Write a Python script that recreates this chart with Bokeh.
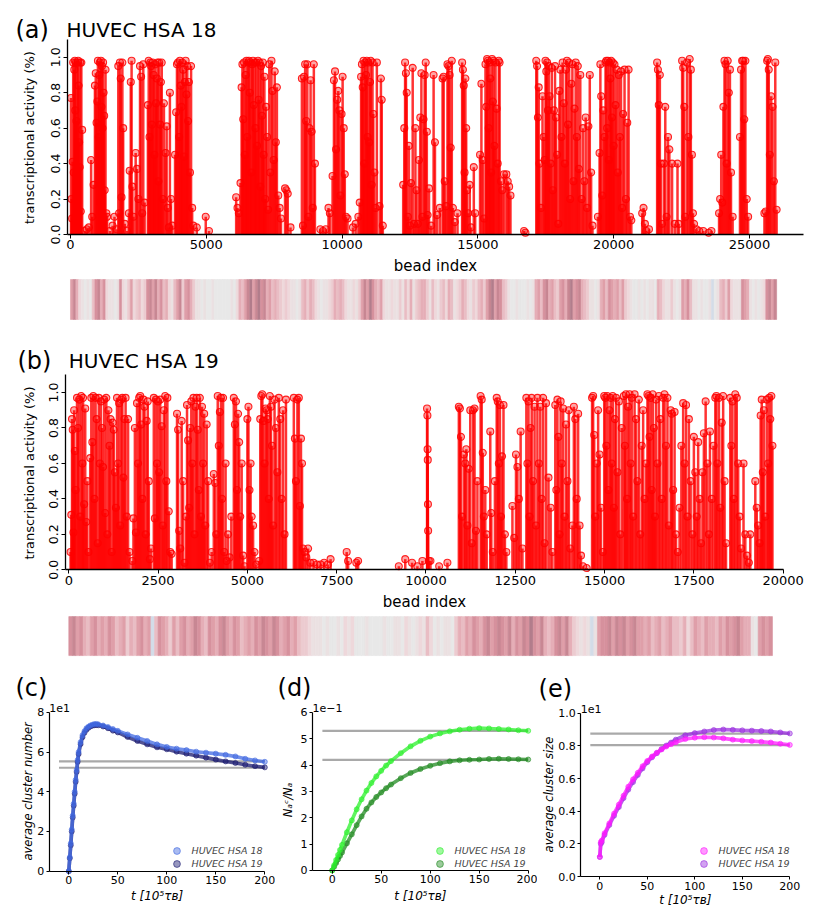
import math
import numpy as np
from bokeh.plotting import figure
from bokeh.models import (ColumnDataSource, Label, FixedTicker, Legend, LegendItem,
                          PrintfTickFormatter)
from bokeh.layouts import column, row
from bokeh.embed import file_html
from bokeh.resources import INLINE

FONT = "DejaVu Sans"

# ---------------------------------------------------------------- data
# (bead index, transcriptional activity), HUVEC HSA 18
stems_a = [
    (20,0.77),(40,0.2),(60,0.09),(80,0.41),(100,0.97),(120,0.35),(140,0.93),(160,0.98),(180,0.7),(200,0.97),
    (220,0.64),(240,0.33),(260,0.97),(280,0.98),(300,0.84),(320,0.52),(340,0.38),(360,0.97),(380,0.13),(400,0.97),
    (430,0.59),(520,0.02),(600,0.03),(680,0.04),(760,0.42),(800,0.1),(850,0.28),
    (900,0.84),(930,0.91),(960,0.63),(990,0.75),(1010,0.98),(1040,0.55),(1060,0.9),(1080,0.97),(1100,0.18),
    (1120,0.98),(1140,0.72),(1160,0.95),(1180,0.6),(1200,0.97),(1220,0.8),(1240,0.67),(1260,0.25),(1290,0.93),
    (1320,0.12),(1350,0.1),(1450,0.02),(1550,0.05),(1620,0.1),(1700,0.03),
    (1760,0.95),(1790,0.12),(1820,0.97),(1850,0.88),(1880,0.21),(1910,0.97),(1940,0.6),
    (2000,0.06),(2080,0.02),(2150,0.12),(2180,0.36),(2220,0.86),(2250,0.98),(2280,0.27),(2320,0.1),
    (2400,0.46),(2450,0.37),(2500,0.2),(2560,0.95),(2600,0.89),(2640,0.12),(2680,0.96),(2730,0.18),
    (2850,0.73),(2880,0.98),(2910,0.55),(2940,0.97),(2970,0.95),(3000,0.62),(3030,0.97),(3060,0.9),(3090,0.45),
    (3120,0.96),(3150,0.74),(3180,0.88),(3210,0.97),(3240,0.3),(3270,0.97),(3300,0.62),(3330,0.86),(3360,0.97),
    (3400,0.2),(3440,0.74),(3500,0.46),(3540,0.61),(3580,0.15),(3620,0.04),(3660,0.8),(3700,0.2),(3750,0.05),
    (3850,0.45),(3890,0.69),(3920,0.96),(3960,0.97),(4000,0.55),(4030,0.98),(4060,0.84),(4090,0.72),(4120,0.97),
    (4150,0.93),(4180,0.44),(4210,0.86),(4240,0.98),(4270,0.79),(4300,0.95),(4330,0.64),(4360,0.86),(4400,0.35),
    (4440,0.95),(4480,0.15),(4520,0.05),(4650,0.04),(4980,0.1),(5100,0.02),
    (6100,0.21),(6150,0.15),(6200,0.12),(6260,0.29),(6300,0.83),(6330,0.96),(6360,0.65),(6390,0.97),(6420,0.45),
    (6450,0.9),(6480,0.98),(6510,0.55),(6540,0.97),(6570,0.98),(6600,0.8),(6630,0.97),(6660,0.35),(6690,0.96),
    (6720,0.98),(6750,0.73),(6780,0.97),(6810,0.6),(6840,0.97),(6870,0.5),(6900,0.98),(6930,0.76),(6960,0.97),
    (6990,0.27),(7020,0.95),(7050,0.67),(7080,0.97),(7110,0.45),(7140,0.89),(7170,0.2),(7200,0.72),(7240,0.55),
    (7280,0.14),(7320,0.96),(7360,0.35),(7400,0.98),(7440,0.81),(7480,0.42),(7520,0.92),(7560,0.52),(7600,0.83),
    (7650,0.22),(7700,0.15),(7750,0.09),(7900,0.26),(7950,0.25),(8000,0.23),(8100,0.04),
    (8520,0.88),(8560,0.05),(8600,0.89),(8640,0.96),(8680,0.64),(8720,0.96),(8760,0.1),(8800,0.6),(8840,0.87),
    (8880,0.58),(8920,0.15),(8960,0.96),(9000,0.4),(9200,0.03),(9300,0.02),(9400,0.03),(9500,0.15),(9550,0.12),
    (9650,0.33),(9700,0.87),(9740,0.92),(9780,0.48),(9820,0.76),(9860,0.81),(9900,0.7),(9940,0.22),(9980,0.68),
    (10020,0.89),(10060,0.6),(10100,0.34),(10140,0.1),(10200,0.09),(10400,0.04),(10500,0.06),(10600,0.1),(10650,0.18),
    (10700,0.89),(10730,0.96),(10760,0.83),(10790,0.98),(10820,0.4),(10850,0.97),(10880,0.9),(10910,0.98),(10940,0.55),
    (10970,0.97),(11000,0.52),(11030,0.86),(11060,0.98),(11090,0.28),(11120,0.97),(11150,0.68),(11190,0.35),(11230,0.15),
    (11280,0.97),(11380,0.16),(11430,0.88),(11460,0.76),(11500,0.05),
    (12250,0.28),(12290,0.6),(12320,0.97),(12350,0.91),(12380,0.8),(12420,0.1),(12460,0.5),(12500,0.05),(12540,0.29),
    (12600,0.94),(12650,0.06),(12700,0.6),(12740,0.25),(12790,0.06),(12830,0.42),(12880,0.66),(12920,0.91),(12960,0.1),
    (13000,0.65),(13040,0.9),(13080,0.97),(13120,0.58),(13150,0.11),(13200,0.26),(13280,0.05),(13370,0.9),(13420,0.52),
    (13500,0.11),(13600,0.15),(13700,0.88),(13740,0.89),(13780,0.3),(13830,0.16),(13880,0.96),(13920,0.95),(13960,0.9),
    (14000,0.49),(14040,0.98),(14080,0.15),(14150,0.07),(14250,0.12),
    (14420,0.97),(14450,0.93),(14480,0.84),(14510,0.35),(14540,0.88),(14570,0.6),(14600,0.25),(14650,0.12),(14700,0.28),
    (14750,0.04),(14850,0.38),(14900,0.12),
    (15080,0.45),(15130,0.85),(15180,0.42),(15230,0.09),(15280,0.96),(15310,0.72),(15340,0.99),(15370,0.98),(15400,0.6),
    (15430,0.97),(15460,0.88),(15490,0.35),(15520,0.99),(15550,0.75),(15580,0.98),(15610,0.5),(15650,0.97),(15690,0.71),
    (15730,0.4),(15770,0.98),(15800,0.97),(15850,0.3),(15900,0.25),(15960,0.34),(16050,0.34),(16100,0.3),(16150,0.27),
    (16200,0.22),(16700,0.02),(16750,0.01),
    (17150,0.98),(17180,0.95),(17210,0.66),(17240,0.83),(17270,0.4),(17320,0.15),(17380,0.78),(17420,0.55),(17460,0.42),
    (17490,0.98),(17520,0.92),(17550,0.97),(17580,0.7),(17610,0.95),(17640,0.78),(17680,0.4),(17720,0.94),(17760,0.25),
    (17800,0.7),(17840,0.95),(17880,0.66),(17920,0.45),(17960,0.06),(18000,0.81),(18040,0.93),(18080,0.55),(18120,0.97),
    (18160,0.74),(18200,0.4),(18240,0.93),(18280,0.98),(18320,0.62),(18360,0.97),(18400,0.2),(18440,0.85),(18480,0.96),
    (18520,0.3),(18560,0.71),(18600,0.97),(18640,0.55),(18680,0.95),(18720,0.37),(18770,0.9),(18820,0.2),(18870,0.6),
    (18920,0.3),(18970,0.66),(19020,0.15),(19070,0.61),(19120,0.9),(19170,0.35),(19220,0.05),
    (19420,0.1),(19480,0.46),(19510,0.96),(19540,0.78),(19580,0.22),(19620,0.7),(19660,0.55),(19700,0.97),(19730,0.98),
    (19760,0.6),(19790,0.98),(19820,0.42),(19850,0.97),(19880,0.88),(19910,0.98),(19940,0.66),(19970,0.97),(20000,0.5),
    (20030,0.96),(20070,0.73),(20110,0.93),(20150,0.35),(20190,0.9),(20230,0.55),(20270,0.92),(20310,0.15),(20350,0.68),
    (20400,0.93),(20450,0.2),(20500,0.63),(20550,0.93),(20600,0.1),(20650,0.08),
    (21050,0.12),(21100,0.15),(21150,0.06),(21200,0.02),(21300,0.03),
    (21600,0.97),(21630,0.93),(21660,0.73),(21700,0.9),(21740,0.4),(21780,0.06),(21850,0.4),(21900,0.72),(21950,0.1),
    (22000,0.55),(22050,0.48),(22150,0.4),(22250,0.06),(22350,0.4),(22400,0.06),
    (22520,0.98),(22560,0.94),(22600,0.72),(22640,0.1),(22700,0.97),(22750,0.55),(22800,0.99),(22840,0.93),(22880,0.45),
    (22920,0.12),(22960,0.06),(23050,0.03),(23150,0.02),(23300,0.02),(23500,0.01),(23600,0.02),
    (23880,0.12),(23920,0.2),(23960,0.45),(24000,0.18),(24040,0.72),(24080,0.98),(24120,0.96),(24160,0.4),(24200,0.98),
    (24240,0.8),(24280,0.93),(24320,0.35),(24380,0.1),
    (24650,0.55),(24690,0.93),(24730,0.98),(24770,0.98),(24810,0.65),(24850,0.98),(24900,0.2),(24950,0.1),
    (25550,0.12),(25600,0.13),(25650,0.98),(25680,0.99),(25710,0.93),(25750,0.45),(25800,0.78),(25850,0.72),(25900,0.3),
    (25950,0.97),(26000,0.14),
]

# (bead index, transcriptional activity), HUVEC HSA 19
stems_b = [
    (50,0.1),(70,0.31),(90,0.85),(110,0.79),(130,0.21),(150,0.9),(170,0.67),(190,0.45),(230,0.97),(260,0.8),
    (290,0.96),(320,0.3),(350,0.98),(380,0.6),(400,0.97),(430,0.37),(460,0.91),(490,0.27),(520,0.5),(550,0.1),
    (600,0.63),(630,0.97),(660,0.72),(690,0.98),(720,0.4),(750,0.97),(780,0.85),(810,0.15),(840,0.97),(870,0.6),
    (900,0.95),(930,0.8),(960,0.58),(990,0.96),(1020,0.32),(1050,0.97),(1080,0.2),(1110,0.9),(1140,0.7),
    (1170,0.85),(1200,0.1),(1230,0.83),(1260,0.79),(1290,0.55),(1320,0.35),(1350,0.97),(1380,0.6),(1410,0.94),
    (1440,0.25),(1470,0.96),(1500,0.97),(1530,0.52),(1560,0.85),(1590,0.97),(1620,0.3),(1660,0.85),(1700,0.1),
    (1780,0.05),(1810,0.29),(1850,0.8),(1880,0.21),(1910,0.94),(1940,0.6),(1970,0.97),(2000,0.98),(2030,0.82),
    (2060,0.4),(2090,0.96),(2120,0.92),(2150,0.2),(2180,0.84),(2210,0.95),(2240,0.5),(2270,0.06),(2300,0.12),
    (2380,0.97),(2410,0.29),(2440,0.96),(2470,0.6),(2500,0.95),(2530,0.55),(2560,0.96),(2600,0.81),(2630,0.25),
    (2660,0.9),(2700,0.98),(2730,0.5),(2760,0.97),(2800,0.33),(2840,0.1),(2880,0.09),
    (3030,0.88),(3060,0.79),(3090,0.22),(3120,0.12),(3160,0.84),(3200,0.5),(3240,0.04),(3280,0.3),
    (3310,0.93),(3340,0.73),(3370,0.35),(3400,0.8),(3430,0.95),(3460,0.6),(3490,0.97),(3520,0.2),(3550,0.92),
    (3580,0.97),(3610,0.79),(3640,0.45),(3670,0.97),(3700,0.3),(3730,0.92),(3760,0.6),(3790,0.88),(3820,0.25),
    (3860,0.82),(3900,0.5),(3950,0.04),(4000,0.1),
    (4060,0.54),(4100,0.49),(4130,0.2),(4170,0.98),(4200,0.7),(4230,0.89),(4260,0.97),(4290,0.4),(4320,0.97),
    (4350,0.1),(4390,0.6),(4420,0.05),(4460,0.2),(4500,0.07),(4550,0.3),
    (4620,0.97),(4650,0.82),(4680,0.95),(4710,0.45),(4740,0.88),(4770,0.72),(4800,0.3),(4840,0.6),(4880,0.08),
    (4920,0.02),(5000,0.85),(5030,0.92),(5060,0.45),(5090,0.6),(5120,0.3),(5160,0.25),(5200,0.1),(5250,0.03),
    (5330,0.05),(5360,0.85),(5390,0.98),(5420,0.99),(5450,0.84),(5480,0.6),(5510,0.91),(5540,0.9),(5570,0.85),
    (5600,0.4),(5630,0.98),(5660,0.92),(5690,0.7),(5720,0.25),(5760,0.96),(5800,0.8),(5840,0.55),(5880,0.97),
    (5920,0.85),(5960,0.4),(6000,0.9),(6040,0.2),(6080,0.96),
    (6300,0.97),(6330,0.74),(6360,0.5),(6400,0.96),(6440,0.97),(6470,0.36),(6500,0.74),(6530,0.6),(6560,0.12),
    (6600,0.1),(6650,0.07),(6700,0.12),(6760,0.04),(6850,0.04),(6950,0.03),(7050,0.03),(7150,0.04),(7250,0.03),
    (7330,0.06),(7780,0.1),(7820,0.05),(8050,0.04),(8100,0.05),(9240,0.02),(9420,0.06),(9610,0.04),(9760,0.02),
    (9900,0.05),(10030,0.91),(10040,0.87),(10045,0.68),(10050,0.62),(10055,0.37),(10060,0.22),(10080,0.05),
    (10125,0.05),(10370,0.02),(10600,0.04),
    (10920,0.92),(10950,0.91),(10980,0.75),(11010,0.3),(11060,0.65),(11100,0.6),(11130,0.68),(11160,0.25),
    (11200,0.57),(11240,0.9),(11280,0.15),(11320,0.9),(11360,0.91),(11400,0.22),(11440,0.5),
    (11530,0.98),(11560,0.96),(11590,0.66),(11620,0.3),(11660,0.45),(11700,0.2),(11800,0.78),(11830,0.32),
    (11870,0.1),(11930,0.5),(11980,0.97),(12010,0.95),(12040,0.6),(12070,0.93),(12100,0.3),(12130,0.64),
    (12170,0.93),(12210,0.2),(12250,0.1),
    (12420,0.36),(12470,0.18),(12520,0.65),(12560,0.58),(12600,0.4),(12650,0.78),(12700,0.12),
    (12810,0.97),(12840,0.6),(12870,0.95),(12900,0.3),(12930,0.8),(12960,0.97),(13000,0.5),(13040,0.92),
    (13080,0.25),(13120,0.97),(13160,0.6),(13200,0.92),(13240,0.4),(13280,0.97),(13320,0.15),(13360,0.94),
    (13430,0.52),(13490,0.35),(13540,0.1),
    (13620,0.93),(13650,0.45),(13680,0.96),(13710,0.75),(13740,0.2),(13770,0.95),(13800,0.6),(13840,0.91),
    (13880,0.3),(13920,0.82),(13960,0.5),(14000,0.9),(14040,0.12),(14100,0.25),(14140,0.92),(14180,0.85),
    (14220,0.4),(14260,0.88),(14300,0.25),(14340,0.08),(14400,0.02),(14500,0.01),
    (14650,0.97),(14680,0.98),(14710,0.76),(14740,0.3),(14780,0.6),(14820,0.9),(14860,0.65),(14900,0.35),
    (14950,0.1),(14990,0.98),(15020,0.97),(15050,0.7),(15080,0.98),(15110,0.45),(15140,0.9),(15170,0.97),
    (15200,0.6),(15230,0.98),(15260,0.35),(15290,0.85),(15320,0.97),(15360,0.55),(15400,0.95),(15440,0.2),
    (15480,0.8),(15540,0.98),(15570,0.7),(15600,0.99),(15630,0.4),(15660,0.92),(15700,0.99),(15730,0.6),
    (15760,0.97),(15800,0.3),(15840,0.99),(15880,0.85),(15920,0.5),(15960,0.96),(16000,0.2),(16040,0.7),
    (16080,0.9),(16120,0.4),(16160,0.6),(16200,0.99),(16230,0.98),(16260,0.75),(16290,0.97),(16320,0.45),
    (16350,0.99),(16380,0.8),(16410,0.3),(16440,0.96),(16480,0.6),(16520,0.98),(16560,0.85),(16600,0.4),
    (16640,0.97),(16680,0.99),(16720,0.7),(16760,0.97),(16800,0.25),
    (16850,0.9),(16880,0.88),(16920,0.45),(16960,0.89),(17000,0.2),(17050,0.1),(17100,0.35),(17150,0.7),
    (17200,0.94),(17240,0.6),(17280,0.93),(17320,0.3),(17360,0.85),(17410,0.5),(17460,0.2),
    (17500,0.75),(17540,0.55),(17580,0.3),(17620,0.72),(17660,0.4),(17700,0.15),(17740,0.55),(17780,0.77),
    (17830,0.95),(17880,0.6),(17920,0.2),(17950,0.78),(18000,0.4),(18050,0.7),(18100,0.97),(18130,0.98),
    (18160,0.6),(18200,0.97),(18240,0.35),(18280,0.83),(18320,0.98),(18360,0.5),(18400,0.15),
    (18520,0.97),(18550,0.7),(18580,0.95),(18620,0.4),(18660,0.99),(18700,0.97),(18740,0.6),(18780,0.3),
    (18820,0.12),(18890,0.6),(18940,0.2),(18990,0.08),(19040,0.04),(19080,0.2),
    (19220,0.5),(19260,0.35),(19300,0.25),(19340,0.15),(19370,0.87),(19400,0.96),(19430,0.55),(19460,0.9),
    (19500,0.3),(19540,0.96),(19580,0.6),(19610,0.97),(19640,0.85),(19670,0.98),(19700,0.7),
]

# colour-strip levels, one per 100 beads (-1 = bluish, 0 = grey ... 9 = dark mauve)
STRIP_BIN = 100
strip_a = [
    6,8,5,2,1,0,1,0,4,7,  8,5,7,2,1,1,0,1,7,2,  1,3,6,2,3,4,2,3,7,8,  6,8,5,7,4,5,2,1,4,6,
    8,3,6,7,5,3,1,1,0,1,  0,0,1,0,0,0,0,0,0,1,  0,2,5,4,6,8,9,6,8,9,  7,8,5,6,4,5,4,3,2,3,
    2,1,1,0,1,4,5,3,5,4,  2,1,0,1,1,2,3,5,4,5,  4,2,1,1,2,1,3,6,8,6,  9,7,5,4,6,2,1,1,2,1,
    1,3,1,4,2,5,1,3,4,5,  5,3,1,4,2,1,3,4,2,5,  4,1,2,3,5,4,2,1,3,2,  4,5,3,6,8,9,6,8,7,4,
    3,1,0,0,1,0,0,0,1,0,  1,5,6,4,7,8,5,6,4,3,  6,7,5,8,9,6,7,8,5,4,  3,1,1,0,1,5,6,4,7,6,
    5,6,4,6,3,2,1,0,0,1,  0,1,0,1,1,0,5,4,2,1,  1,3,1,0,1,6,5,7,4,1,  1,0,1,0,0,1,-1,0,1,4,
    5,3,6,2,1,1,1,7,6,5,  1,0,1,0,1,2,7,8,6,8,
]
strip_b = [
    7,8,6,7,5,4,6,7,5,6,  5,7,6,4,5,6,3,5,4,6,  7,5,6,-1,4,7,6,5,3,6,  4,6,7,5,6,8,7,5,4,7,
    6,5,7,8,6,5,7,6,4,5,  6,5,7,6,8,7,6,8,7,5,  6,7,5,6,4,3,3,2,1,1,  1,0,1,0,0,1,0,2,1,2,
    0,0,0,1,0,0,0,0,1,0,  0,1,1,0,2,1,0,1,2,1,  4,2,0,1,0,1,1,0,3,5,  4,6,5,7,6,5,7,8,6,7,
    8,7,6,8,5,7,6,8,7,9,  7,6,8,5,4,5,7,8,6,8,  5,3,2,1,2,1,-1,1,6,7,  7,8,6,8,7,8,6,7,8,6,
    6,5,6,4,5,6,4,5,6,4,  4,3,5,2,4,6,5,4,6,5,  5,4,6,5,7,6,7,8,6,5,  5,1,0,6,7,6,7,
]

# panel (c): average cluster number
t_c = [0,1,2,3,4,5,6,7,8,9,10,12,14,16,18,20,22,24,26,28,30,35,40,45,50,
       60,70,80,90,100,110,120,130,140,150,160,170,180,190,200]
c_hsa18 = [0,7,14,21,28,34,40,46,51,56,60,65,68.5,70.5,72,72.8,73.4,73.8,74.1,74.2,74.0,73.4,72.6,71.6,70.7,
           68.9,67.2,65.6,63.9,62.6,61.7,61.0,60.2,59.7,59.2,58.6,57.8,56.6,55.8,55.1]
c_hsa19 = [0,6.5,13,20,27,33,39,45,50,55,59,64,67.5,69.7,71.2,72.2,72.9,73.3,73.5,73.6,73.5,72.9,72.0,70.8,69.9,
           67.6,65.6,63.9,62.4,61.4,60.2,59.2,58.2,57.2,56.2,55.3,54.5,53.6,52.9,52.3]
c_ref = [55.3, 52.1]

# panel (d): N_a^c / N_a
t_d = [0,2,4,6,8,10,15,20,25,30,35,40,45,50,55,60,70,80,90,100,110,120,130,140,150,160,170,180,190,200]
d_hsa18 = [0,0.020,0.040,0.059,0.078,0.097,0.145,0.190,0.232,0.270,0.303,0.332,0.357,0.378,0.398,0.415,
           0.445,0.471,0.492,0.508,0.520,0.528,0.534,0.538,0.540,0.539,0.537,0.535,0.532,0.530]
d_hsa19 = [0,0.014,0.028,0.042,0.055,0.068,0.103,0.137,0.172,0.205,0.234,0.258,0.279,0.296,0.312,0.326,
           0.350,0.370,0.385,0.397,0.407,0.414,0.418,0.420,0.421,0.423,0.424,0.423,0.422,0.421]
d_ref = [0.53, 0.42]

# panel (e): average cluster size
t_e = [0,1,2,5,10,15,20,25,30,35,40,45,50,55,60,65,70,75,80,90,100,110,120,130,140,150,160,170,180,190,200]
e_hsa18 = [1.2,2.1,2.2,2.65,3.25,3.85,4.4,4.95,5.5,5.95,6.35,6.75,7.08,7.35,7.58,7.78,7.96,8.1,8.22,8.42,
           8.5,8.53,8.51,8.46,8.38,8.33,8.29,8.25,8.2,8.13,8.06]
e_hsa19 = [1.2,2.0,2.1,2.55,3.15,3.72,4.25,4.8,5.32,5.78,6.22,6.62,7.0,7.3,7.55,7.8,8.02,8.2,8.38,8.65,
           8.78,8.88,8.97,9.0,8.98,8.95,8.93,8.91,8.88,8.82,8.76]
e_ref = [8.75, 8.05]

SERIES_LABELS = ["HUVEC HSA 18", "HUVEC HSA 19"]

# ---------------------------------------------------------------- style
STRIP_COLORS = {-1: "#d3dce8", 0: "#e8e8e8", 1: "#ebe1e2", 2: "#eed8db", 3: "#eccbd0", 4: "#e9bdc4",
                5: "#e5aeb7", 6: "#df9fa9", 7: "#d6919d", 8: "#c88793", 9: "#b27d8c"}
RED = "#ff0000"
VERT = math.pi / 2
ROW_H = 250


def base_fig(width, height, xr, yr):
    # the frame fills the whole canvas; axes are pinned with fixed_location
    p = figure(width=width, height=height, x_range=xr, y_range=yr, output_backend="svg",
               toolbar_location=None, min_border_left=0, min_border_right=0,
               min_border_top=0, min_border_bottom=0)
    p.xgrid.visible = False
    p.ygrid.visible = False
    p.outline_line_color = None
    p.background_fill_color = "white"
    p.border_fill_color = "white"
    for ax in (p.xaxis, p.yaxis):
        ax.minor_tick_line_color = None
        ax.major_tick_in = 0
        ax.axis_line_color = "black"
        ax.major_tick_line_color = "black"
        ax.major_label_text_color = "black"
        ax.major_label_text_font = FONT
    return p


def add_text(p, x, y, text, size, style="normal", align="left", baseline="alphabetic", angle=0.0):
    p.add_layout(Label(x=x, y=y, text=text, text_font=FONT, text_font_size=size,
                       text_font_style=style, text_align=align, text_baseline=baseline,
                       angle=angle, text_color="black"))


def stem_panel(stems, strip, width, height, xr, yr, xbounds, xticks, strip_y,
               letter, letter_pos, title, title_pos, xlabel_pos, ylabel_pos):
    p = base_fig(width, height, xr, yr)
    left = [i * STRIP_BIN for i in range(len(strip))]
    right = [(i + 1) * STRIP_BIN for i in range(len(strip))]
    colors = [STRIP_COLORS[v] for v in strip]
    ssrc = ColumnDataSource(dict(left=left, right=right, color=colors))
    p.quad(left="left", right="right", bottom=strip_y[1], top=strip_y[0], fill_color="color",
           line_color="color", line_width=0.6, source=ssrc)

    beads = np.array([s[0] for s in stems], dtype=float)
    acts = np.array([s[1] for s in stems], dtype=float)
    src = ColumnDataSource(dict(x=beads, y=acts, y0=np.zeros(len(beads))))
    p.segment(x0="x", y0="y0", x1="x", y1="y", line_color=RED, line_alpha=0.8,
              line_width=2.5, source=src)
    p.scatter("x", "y", size=7, marker="circle", line_color=RED, line_alpha=0.85,
              fill_color=RED, fill_alpha=0.35, line_width=1.1, source=src)

    xa = p.xaxis[0]
    xa.fixed_location = 0
    xa.bounds = xbounds
    xa.ticker = FixedTicker(ticks=xticks)
    xa.axis_line_width = 1.3
    xa.major_tick_out = 4
    xa.major_label_standoff = 2
    xa.major_label_text_font_size = "13px"

    ya = p.yaxis[0]
    ya.fixed_location = xbounds[0]
    ya.bounds = (0, 1.1)
    ya.ticker = FixedTicker(ticks=[0, 0.2, 0.4, 0.6, 0.8, 1.0])
    ya.formatter = PrintfTickFormatter(format="%.1f")
    ya.major_label_orientation = "vertical"
    ya.axis_line_width = 1.3
    ya.major_tick_out = 4
    ya.major_label_standoff = 3
    ya.major_label_text_font_size = "12.5px"

    add_text(p, xlabel_pos[0], xlabel_pos[1], "bead index", "15px", align="center")
    add_text(p, ylabel_pos[0], ylabel_pos[1], "transcriptional activity (%)", "13px",
             align="center", baseline="middle", angle=VERT)
    add_text(p, letter_pos[0], letter_pos[1], letter, "24px")
    add_text(p, title_pos[0], title_pos[1], title, "20px")
    return p


figA = stem_panel(stems_a, strip_a, 831, 328, (-2577, 28020), (-0.5303, 1.3200), (-110, 26990),
                  [0, 5000, 10000, 15000, 20000, 25000], (-0.2538, -0.4795),
                  "(a)", (-2025, 1.151), "HUVEC HSA 18", (-147, 1.155),
                  (13439, -0.180), (-1510, 0.547))
figB = stem_panel(stems_b, strip_b, 831, 332, (-1912, 21353), (-0.5117, 1.3612), (-92, 20005),
                  [0, 2500, 5000, 7500, 10000, 12500, 15000, 17500, 20000], (-0.2640, -0.4840),
                  "(b)", (-1436, 1.179), "HUVEC HSA 19", (0, 1.179),
                  (9958, -0.184), (-1100, 0.546))


def curve_panel(width, xr, yr, ytop, yticks, yfmt, scale, t, s18, s19, refs, colors, ylabel,
                ylabel_pos, offset_text, letter, letter_pos, xlabel_y, legend_x, legend_y):
    p = base_fig(width, ROW_H, xr, yr)
    y18 = [v * scale for v in s18]
    y19 = [v * scale for v in s19]
    for r in refs:
        p.segment(x0=[-10], y0=[r * scale], x1=[200], y1=[r * scale], line_color="#a9a9a9",
                  line_width=2.2)
    p.line(t, y19, line_color=colors[1], line_width=3.6, line_alpha=0.75)
    r19 = p.scatter(t, y19, size=5, marker="circle", line_color=colors[1], fill_color=colors[1],
                    fill_alpha=0.45, line_alpha=0.6)
    p.line(t, y18, line_color=colors[0], line_width=3.6, line_alpha=0.75)
    r18 = p.scatter(t, y18, size=5, marker="circle", line_color=colors[0], fill_color=colors[0],
                    fill_alpha=0.45, line_alpha=0.6)

    xa = p.xaxis[0]
    xa.fixed_location = 0
    xa.bounds = (-20, 200)
    xa.ticker = FixedTicker(ticks=[0, 50, 100, 150, 200])
    xa.axis_line_width = 1.2
    xa.major_tick_out = 3
    xa.major_label_standoff = 2
    xa.major_label_text_font_size = "11px"

    ya = p.yaxis[0]
    ya.fixed_location = -20
    ya.bounds = (0, ytop)
    ya.ticker = FixedTicker(ticks=yticks)
    if yfmt:
        ya.formatter = PrintfTickFormatter(format=yfmt)
    ya.axis_line_width = 1.2
    ya.major_tick_out = 3
    ya.major_label_standoff = 2
    ya.major_label_text_font_size = "11px"

    add_text(p, 90, xlabel_y, "t [10\u2075\u03c4\u0299]", "12px", style="italic", align="center")
    add_text(p, ylabel_pos[0], ylabel_pos[1], ylabel, "11.5px", style="italic", align="center",
             baseline="middle", angle=VERT)
    add_text(p, -20, ytop, offset_text, "11px", baseline="bottom")
    add_text(p, letter_pos[0], letter_pos[1], letter, "24px")

    for item, rend, ly in ((SERIES_LABELS[0], r18, legend_y[0]), (SERIES_LABELS[1], r19, legend_y[1])):
        leg = Legend(items=[LegendItem(label=item, renderers=[rend])],
                     location=(legend_x, ly), orientation="vertical", glyph_width=17, glyph_height=17,
                     label_height=17, padding=2, margin=0, label_standoff=7,
                     label_text_font=FONT, label_text_font_size="9.5px", label_text_font_style="italic",
                     border_line_alpha=0, background_fill_alpha=0)
        p.add_layout(leg)
    return p


# row canvases: C spans x 0..275, D 275..537, E 537..831 (screen px); row from y 660 to 910
figC = curve_panel(275, (-69.7, 210.9), (-1.984, 10.615), 8.0, [0, 2, 4, 6, 8], None, 0.1,
                   t_c, c_hsa18, c_hsa19, c_ref, ("#4169e1", "#191970"), "average cluster number",
                   (-42.1, 4.018), "1e1", "(c)", (-54.4, 9.226), -1.24, 165.5, (49, 36))
figD = curve_panel(262, (-57.86, 209.49), (-1.520, 7.968), 6.0, [0, 1, 2, 3, 4, 5, 6], None, 10,
                   t_d, d_hsa18, d_hsa19, d_ref, ("#2cf02c", "#228b22"), "N\u2090\u1d9c/N\u2090",
                   (-45.1, 2.675), "1e\u22121", "(d)", (-55.8, 6.922), -0.96, 153.5, (49, 36))
figE = curve_panel(294, (-65.6, 243.9), (-0.2082, 1.3227), 1.0, [0, 0.2, 0.4, 0.6, 0.8, 1.0], "%.1f", 0.1,
                   t_e, e_hsa18, e_hsa19, e_ref, ("#ff1aff", "#9b30e0"), "average cluster size",
                   (-54.0, 0.502), "1e1", "(e)", (-64.5, 1.151), -0.141, 155.5, (49, 36))

layout = column(figA, figB, row(figC, figD, figE))

with open("out.html", "w") as f:
    f.write(file_html(layout, INLINE))
